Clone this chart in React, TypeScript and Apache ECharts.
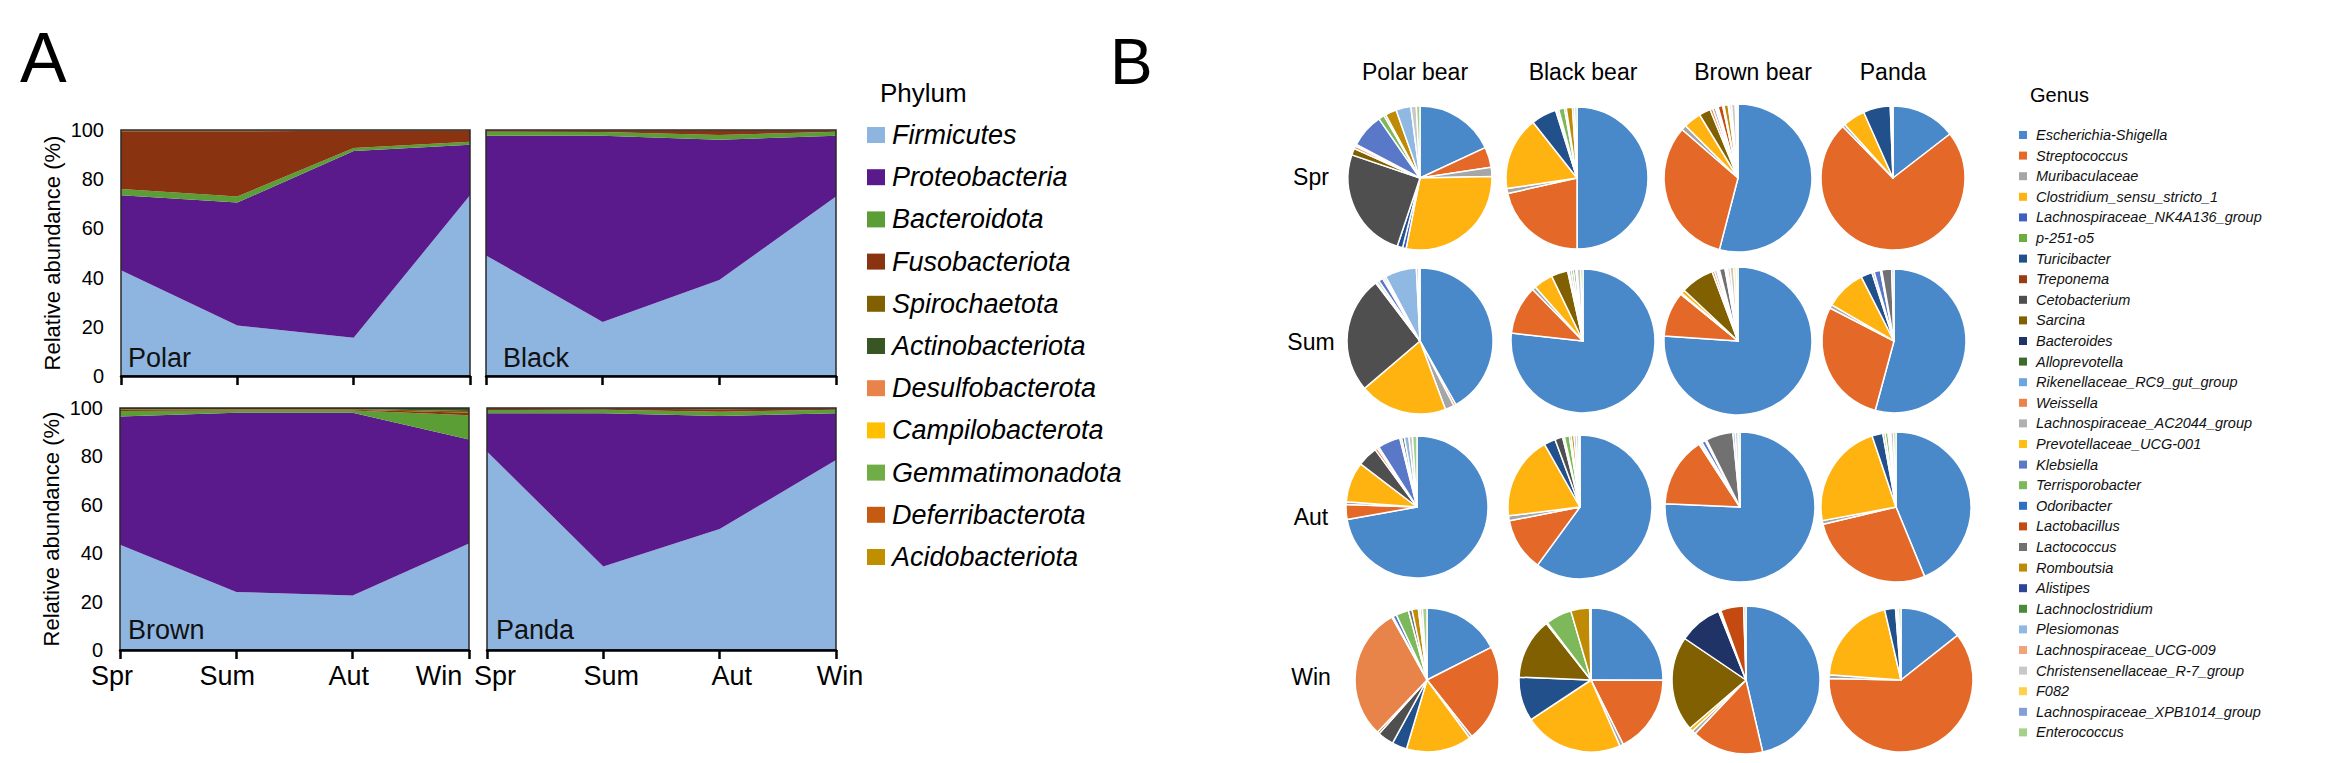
import React, { useEffect, useRef } from "react";
import * as echarts from "echarts";

const FONT = "'Liberation Sans', Arial, Helvetica, sans-serif";

const seasons = ["Spr", "Sum", "Aut", "Win"];
const animals = ["Polar", "Black", "Brown", "Panda"];
const pieColumnTitles = ["Polar bear", "Black bear", "Brown bear", "Panda"];

const phyla = [
  "Firmicutes", "Proteobacteria", "Bacteroidota", "Fusobacteriota", "Spirochaetota",
  "Actinobacteriota", "Desulfobacterota", "Campilobacterota", "Gemmatimonadota",
  "Deferribacterota", "Acidobacteriota",
];
const phylumColors = [
  "#8DB5E0", "#5B1A8C", "#5A9E35", "#8A3311", "#806000",
  "#375623", "#E8834A", "#FFC000", "#70AD47", "#C55A11", "#BF8F00",
];

// rows follow `phyla`, columns follow `seasons` (relative abundance, %)
const polarPhyla = [
  [43, 20.5, 15.5, 73.5],
  [30.5, 50, 76, 20.5],
  [2.5, 2.5, 1.2, 1.2],
  [23.5, 26.5, 7, 4.5],
  [0.1, 0.1, 0.1, 0.1],
  [0.2, 0.2, 0.1, 0.1],
  [0.1, 0.1, 0, 0.1],
  [0, 0, 0, 0],
  [0, 0, 0, 0],
  [0.1, 0.1, 0, 0],
  [0, 0, 0, 0],
];
const blackPhyla = [
  [49, 22, 39, 73],
  [48.7, 75.7, 57, 24.7],
  [1.6, 1.5, 2, 1.6],
  [0.4, 0.5, 1.8, 0.5],
  [0.1, 0.1, 0.1, 0.1],
  [0.2, 0.2, 0.1, 0.1],
  [0, 0, 0, 0],
  [0, 0, 0, 0],
  [0, 0, 0, 0],
  [0, 0, 0, 0],
  [0, 0, 0, 0],
];
const brownPhyla = [
  [43.5, 24, 22.5, 44],
  [53, 74, 75.5, 43],
  [2.3, 1, 1, 10],
  [0.5, 0.3, 0.3, 1],
  [0.3, 0.3, 0.3, 0.8],
  [0.4, 0.4, 0.4, 1.2],
  [0, 0, 0, 0],
  [0, 0, 0, 0],
  [0, 0, 0, 0],
  [0, 0, 0, 0],
  [0, 0, 0, 0],
];
const pandaPhyla = [
  [82, 34.5, 50, 78.5],
  [15.8, 63.3, 46.7, 19.3],
  [1.4, 1.5, 1.8, 1.5],
  [0.4, 0.4, 1, 0.4],
  [0.1, 0.1, 0.2, 0.1],
  [0.3, 0.2, 0.3, 0.2],
  [0, 0, 0, 0],
  [0, 0, 0, 0],
  [0, 0, 0, 0],
  [0, 0, 0, 0],
  [0, 0, 0, 0],
];
const phylaByAnimal = [polarPhyla, blackPhyla, brownPhyla, pandaPhyla];

const genera = [
  "Escherichia-Shigella", "Streptococcus", "Muribaculaceae", "Clostridium_sensu_stricto_1",
  "Lachnospiraceae_NK4A136_group", "p-251-o5", "Turicibacter", "Treponema", "Cetobacterium",
  "Sarcina", "Bacteroides", "Alloprevotella", "Rikenellaceae_RC9_gut_group", "Weissella",
  "Lachnospiraceae_AC2044_group", "Prevotellaceae_UCG-001", "Klebsiella", "Terrisporobacter",
  "Odoribacter", "Lactobacillus", "Lactococcus", "Romboutsia", "Alistipes", "Lachnoclostridium",
  "Plesiomonas", "Lachnospiraceae_UCG-009", "Christensenellaceae_R-7_group", "F082",
  "Lachnospiraceae_XPB1014_group", "Enterococcus",
];
const genusColors = [
  "#4A89C9", "#E46827", "#A6A6A6", "#FFB310", "#3F62C2", "#6AAF3D", "#22508A", "#9C3A12",
  "#4F4F4F", "#806000", "#1F3366", "#3C6B2A", "#6CA6E0", "#E8834A", "#B0B0B0", "#FFC012",
  "#5A78C8", "#7DB85A", "#2D6FC0", "#C44A12", "#717171", "#BF8A06", "#2B4597", "#4A8A3A",
  "#8FB8E3", "#F0A47A", "#C8C8C8", "#FFD04A", "#839FD8", "#A5D08A",
];

// genus relative abundance (%), in `genera` order
const polarSpr = [17.8, 4.5, 2, 28, 0.8, 0, 1.2, 0, 24.7, 1.5, 0, 0, 0, 0.6, 0.4, 0, 7.5, 1.3, 0, 0, 0.4, 2.5, 0, 0, 3.3, 0, 1.2, 0, 0, 0.8];
const polarSum = [42, 0.5, 2, 19.5, 0, 0, 0, 0, 26, 0, 0, 0, 0, 0.3, 0.5, 0, 1, 0.4, 0, 0, 0.4, 0, 0, 0, 7, 0, 0.5, 0, 0, 0.3];
const polarAut = [70.5, 3.3, 0.6, 9, 0, 0, 0, 0, 4.5, 0, 0, 0, 0, 0.6, 0.4, 0, 5, 0.4, 0, 0, 0.6, 0, 0, 0, 1, 0, 0.8, 0, 0, 1];
const polarWin = [17.3, 21.5, 0.6, 14.5, 0, 0, 3.3, 0, 3.6, 0.5, 0, 0, 0, 29.4, 0.3, 0, 0.8, 2.8, 0, 0, 0.8, 1.4, 0, 0, 0.4, 0, 0.5, 0, 0, 1];
const blackSpr = [49.3, 21.2, 1.1, 16.5, 0, 0, 5.7, 0, 0, 0, 0, 0, 0, 0.3, 0.4, 0, 0, 1.3, 0, 0, 0.4, 1.4, 0, 0, 0, 0, 0.5, 0, 0, 0.5];
const blackSum = [76, 10.8, 0.8, 4.3, 0, 0, 0, 0, 0, 3.7, 0, 0, 0, 0.3, 0.5, 0, 0, 0.5, 0, 0, 0.5, 0.3, 0, 0, 0, 0, 0.8, 0, 0, 0.5];
const blackAut = [58.6, 11.6, 1.1, 18.3, 0, 0, 2.5, 0, 1.7, 0, 0, 0, 0, 0, 0.4, 0, 0, 1.1, 0, 0, 0.4, 0.6, 0, 0, 0.5, 0, 0.5, 0, 0, 0.3];
const blackWin = [25, 17.5, 0.8, 22.2, 0, 0, 9.9, 0, 0, 13.7, 0, 0, 0, 0, 0.3, 0, 0, 5.8, 0, 0, 0, 4.2, 0, 0, 0, 0, 0.3, 0, 0, 0];
const brownSpr = [53.5, 32, 1.1, 3.8, 0, 0, 0, 0, 0, 2.5, 0, 0, 0, 0.6, 0.6, 0, 0.3, 0.3, 0, 1, 0.3, 0.9, 0, 0, 0.3, 0.4, 0.8, 0.3, 0, 0.3];
const brownSum = [75, 9.7, 0.3, 0.8, 0, 0, 0, 0, 0, 7.2, 0, 0, 0, 0.5, 0.5, 0, 0.3, 0.3, 0, 0, 1.2, 0.3, 0, 0, 0.3, 0.5, 0.8, 0.5, 0, 0.4];
const brownAut = [75, 15, 0.3, 0, 0, 0, 0, 0, 0, 0, 0, 0, 0, 0, 0.4, 0, 0.8, 0.3, 0, 0, 5.8, 0, 0, 0, 0.5, 0, 0.6, 0, 0, 0.4];
const brownWin = [46, 15.6, 0.8, 0.8, 0, 0, 0, 0, 0, 20.6, 9.4, 0, 0, 0.2, 0.3, 0, 0, 0, 0, 5, 0, 0, 0, 0, 0, 0, 0.5, 0, 0, 0];
const pandaSpr = [14.4, 72.5, 0.6, 5, 0, 0, 6, 0, 0, 0, 0, 0, 0, 0, 0.3, 0, 0, 0, 0, 0, 0, 0, 0, 0, 0, 0, 0.3, 0, 0, 0];
const pandaSum = [53.5, 28, 0.8, 9, 0, 0, 2.5, 0, 0, 0, 0, 0, 0, 0, 0.5, 0, 1.4, 0.3, 0, 0, 2.2, 0, 0, 0, 0, 0, 0.5, 0, 0, 0];
const pandaAut = [43.3, 27.2, 0.8, 22.5, 0, 0, 2.3, 0, 0, 0, 0, 0, 0, 0, 0.5, 0, 0, 0.6, 0, 0, 0.3, 0, 0, 0, 0.3, 0, 0.6, 0, 0, 0.5];
const pandaWin = [14.2, 60.3, 0.8, 20, 0, 0, 2.4, 0, 0, 0, 0, 0, 0, 0, 0.3, 0, 0, 0, 0, 0, 0, 0, 0, 0, 0, 0, 0.4, 0, 0, 0.5];

// [animal][season]
const pieValues = [
  [polarSpr, polarSum, polarAut, polarWin],
  [blackSpr, blackSum, blackAut, blackWin],
  [brownSpr, brownSum, brownAut, brownWin],
  [pandaSpr, pandaSum, pandaAut, pandaWin],
];

// layout
const gridBoxes = [
  { left: 121, top: 130, width: 349, height: 246 },
  { left: 486, top: 130, width: 350, height: 246 },
  { left: 120, top: 408, width: 349, height: 242 },
  { left: 487, top: 408, width: 349, height: 242 },
];
// horizontal nudge of each season label (px) for the two bottom plots
const xLabelShift = [
  [0, 0, 0, 0],
  [0, 0, 0, 0],
  [-8, -9, -4, -30],
  [8, 8, 12, 4],
];
const plotLabelPos = [
  [128, 358],
  [503, 358],
  [128, 630],
  [496, 630],
];
const pieCentersX = [
  [1420, 1420, 1417, 1427],
  [1577, 1583, 1580, 1591],
  [1738, 1738, 1740, 1746],
  [1893, 1894, 1896, 1901],
];
const pieRowY = [178, 341, 507, 680];
const pieRadius = [
  [72, 73, 71, 72],
  [71, 72, 72, 72],
  [74, 74, 75, 74],
  [72, 72, 75, 72],
];
const pieTitleX = [1415, 1583, 1753, 1893];
const rowLabelY = [177, 342, 517, 677];

function buildOption() {
  const grid: any[] = [];
  const xAxis: any[] = [];
  const yAxis: any[] = [];
  const series: any[] = [];
  const graphic: any[] = [];

  gridBoxes.forEach((b, g) => {
    const bottomRow = g >= 2;
    const leftCol = g % 2 === 0;
    grid.push({
      ...b,
      show: true,
      z: 10,
      backgroundColor: "transparent",
      borderColor: "#2a2a2a",
      borderWidth: 1.5,
    });
    const rich: any = {};
    seasons.forEach((_, i) => {
      const d = xLabelShift[g][i];
      rich["s" + i] = {
        fontSize: 27,
        color: "#000",
        fontFamily: FONT,
        padding: d >= 0 ? [0, 0, 0, 2 * d] : [0, -2 * d, 0, 0],
      };
    });
    xAxis.push({
      type: "category",
      gridIndex: g,
      data: seasons,
      boundaryGap: false,
      z: 11,
      axisLine: { show: true, lineStyle: { color: "#000", width: 2.5 } },
      axisTick: { show: true, length: 9, lineStyle: { color: "#000", width: 2.5 } },
      axisLabel: {
        show: bottomRow,
        interval: 0,
        hideOverlap: false,
        fontSize: 27,
        color: "#000",
        margin: 12,
        fontFamily: FONT,
        formatter: (v: string, i: number) => `{s${i}|${v}}`,
        rich,
      },
      splitLine: { show: false },
    });
    yAxis.push({
      type: "value",
      gridIndex: g,
      min: 0,
      max: 100,
      interval: 20,
      axisLine: { show: false },
      axisTick: { show: false },
      splitLine: { show: false },
      axisLabel: { show: leftCol, fontSize: 20, color: "#000", margin: 17, fontFamily: FONT },
      name: leftCol ? "Relative abundance (%)" : "",
      nameLocation: "middle",
      nameGap: 58,
      nameTextStyle: { fontSize: 22, color: "#000", fontFamily: FONT },
    });
    const table = phylaByAnimal[g];
    phyla.forEach((p, i) => {
      series.push({
        type: "line",
        name: p,
        xAxisIndex: g,
        yAxisIndex: g,
        stack: "s" + g,
        data: table[i],
        symbol: "none",
        showSymbol: false,
        silent: true,
        lineStyle: { width: 0, opacity: 0 },
        areaStyle: { color: phylumColors[i], opacity: 1 },
        itemStyle: { color: phylumColors[i] },
        z: 2,
      });
    });
    graphic.push({
      type: "text",
      x: plotLabelPos[g][0],
      y: plotLabelPos[g][1],
      z: 100,
      style: {
        text: animals[g],
        fontSize: 27,
        fontFamily: FONT,
        fill: "#111",
        align: "left",
        verticalAlign: "middle",
      },
    });
  });

  // pies
  pieValues.forEach((col, a) => {
    col.forEach((vals, s) => {
      series.push({
        type: "pie",
        name: animals[a] + " " + seasons[s],
        center: [pieCentersX[a][s], pieRowY[s]],
        radius: pieRadius[a][s],
        startAngle: 90,
        clockwise: true,
        silent: true,
        avoidLabelOverlap: false,
        label: { show: false },
        labelLine: { show: false },
        itemStyle: { borderColor: "#fff", borderWidth: 1.5 },
        emphasis: { disabled: true },
        data: genera
          .map((gname, i) => ({ name: gname, value: vals[i], itemStyle: { color: genusColors[i] } }))
          .filter((d) => d.value > 0),
      });
    });
  });

  // panel letters
  graphic.push({
    type: "text", x: 20, y: 58, z: 100,
    style: { text: "A", fontSize: 70, fontFamily: FONT, fill: "#000", align: "left", verticalAlign: "middle" },
  });
  graphic.push({
    type: "text", x: 1110, y: 62, z: 100,
    style: { text: "B", fontSize: 64, fontFamily: FONT, fill: "#000", align: "left", verticalAlign: "middle" },
  });

  // pie titles and row labels
  pieColumnTitles.forEach((t, i) => {
    graphic.push({
      type: "text", x: pieTitleX[i], y: 72, z: 100,
      style: { text: t, fontSize: 23, fontFamily: FONT, fill: "#000", align: "center", verticalAlign: "middle" },
    });
  });
  seasons.forEach((t, i) => {
    graphic.push({
      type: "text", x: 1311, y: rowLabelY[i], z: 100,
      style: { text: t, fontSize: 23, fontFamily: FONT, fill: "#000", align: "center", verticalAlign: "middle" },
    });
  });

  // phylum legend
  graphic.push({
    type: "text", x: 880, y: 93, z: 100,
    style: { text: "Phylum", fontSize: 26, fontFamily: FONT, fill: "#000", align: "left", verticalAlign: "middle" },
  });
  phyla.forEach((p, i) => {
    const y = 135 + i * 42.2;
    graphic.push({
      type: "rect", z: 100,
      shape: { x: 867, y: y - 8, width: 18, height: 16 },
      style: { fill: phylumColors[i] },
    });
    graphic.push({
      type: "text", x: 892, y, z: 100,
      style: {
        text: p, fontSize: 27, fontStyle: "italic", fontFamily: FONT, fill: "#000",
        align: "left", verticalAlign: "middle",
      },
    });
  });

  // genus legend
  graphic.push({
    type: "text", x: 2030, y: 95, z: 100,
    style: { text: "Genus", fontSize: 20, fontFamily: FONT, fill: "#000", align: "left", verticalAlign: "middle" },
  });
  genera.forEach((gname, i) => {
    const y = 135 + i * 20.6;
    graphic.push({
      type: "rect", z: 100,
      shape: { x: 2019, y: y - 4, width: 8, height: 8 },
      style: { fill: genusColors[i] },
    });
    graphic.push({
      type: "text", x: 2036, y, z: 100,
      style: {
        text: gname, fontSize: 14.5, fontStyle: "italic", fontFamily: FONT, fill: "#111",
        align: "left", verticalAlign: "middle",
      },
    });
  });

  return {
    animation: false,
    backgroundColor: "#fff",
    textStyle: { fontFamily: FONT },
    grid,
    xAxis,
    yAxis,
    series,
    graphic,
  };
}

export default function App() {
  const ref = useRef<HTMLDivElement>(null);
  useEffect(() => {
    if (!ref.current) return;
    const chart = echarts.init(ref.current, undefined, { renderer: "svg" });
    chart.setOption(buildOption() as any);
    return () => chart.dispose();
  }, []);
  return (
    <div
      ref={ref}
      style={{ position: "absolute", left: 0, top: 0, width: 2325, height: 763, background: "#fff" }}
    />
  );
}
